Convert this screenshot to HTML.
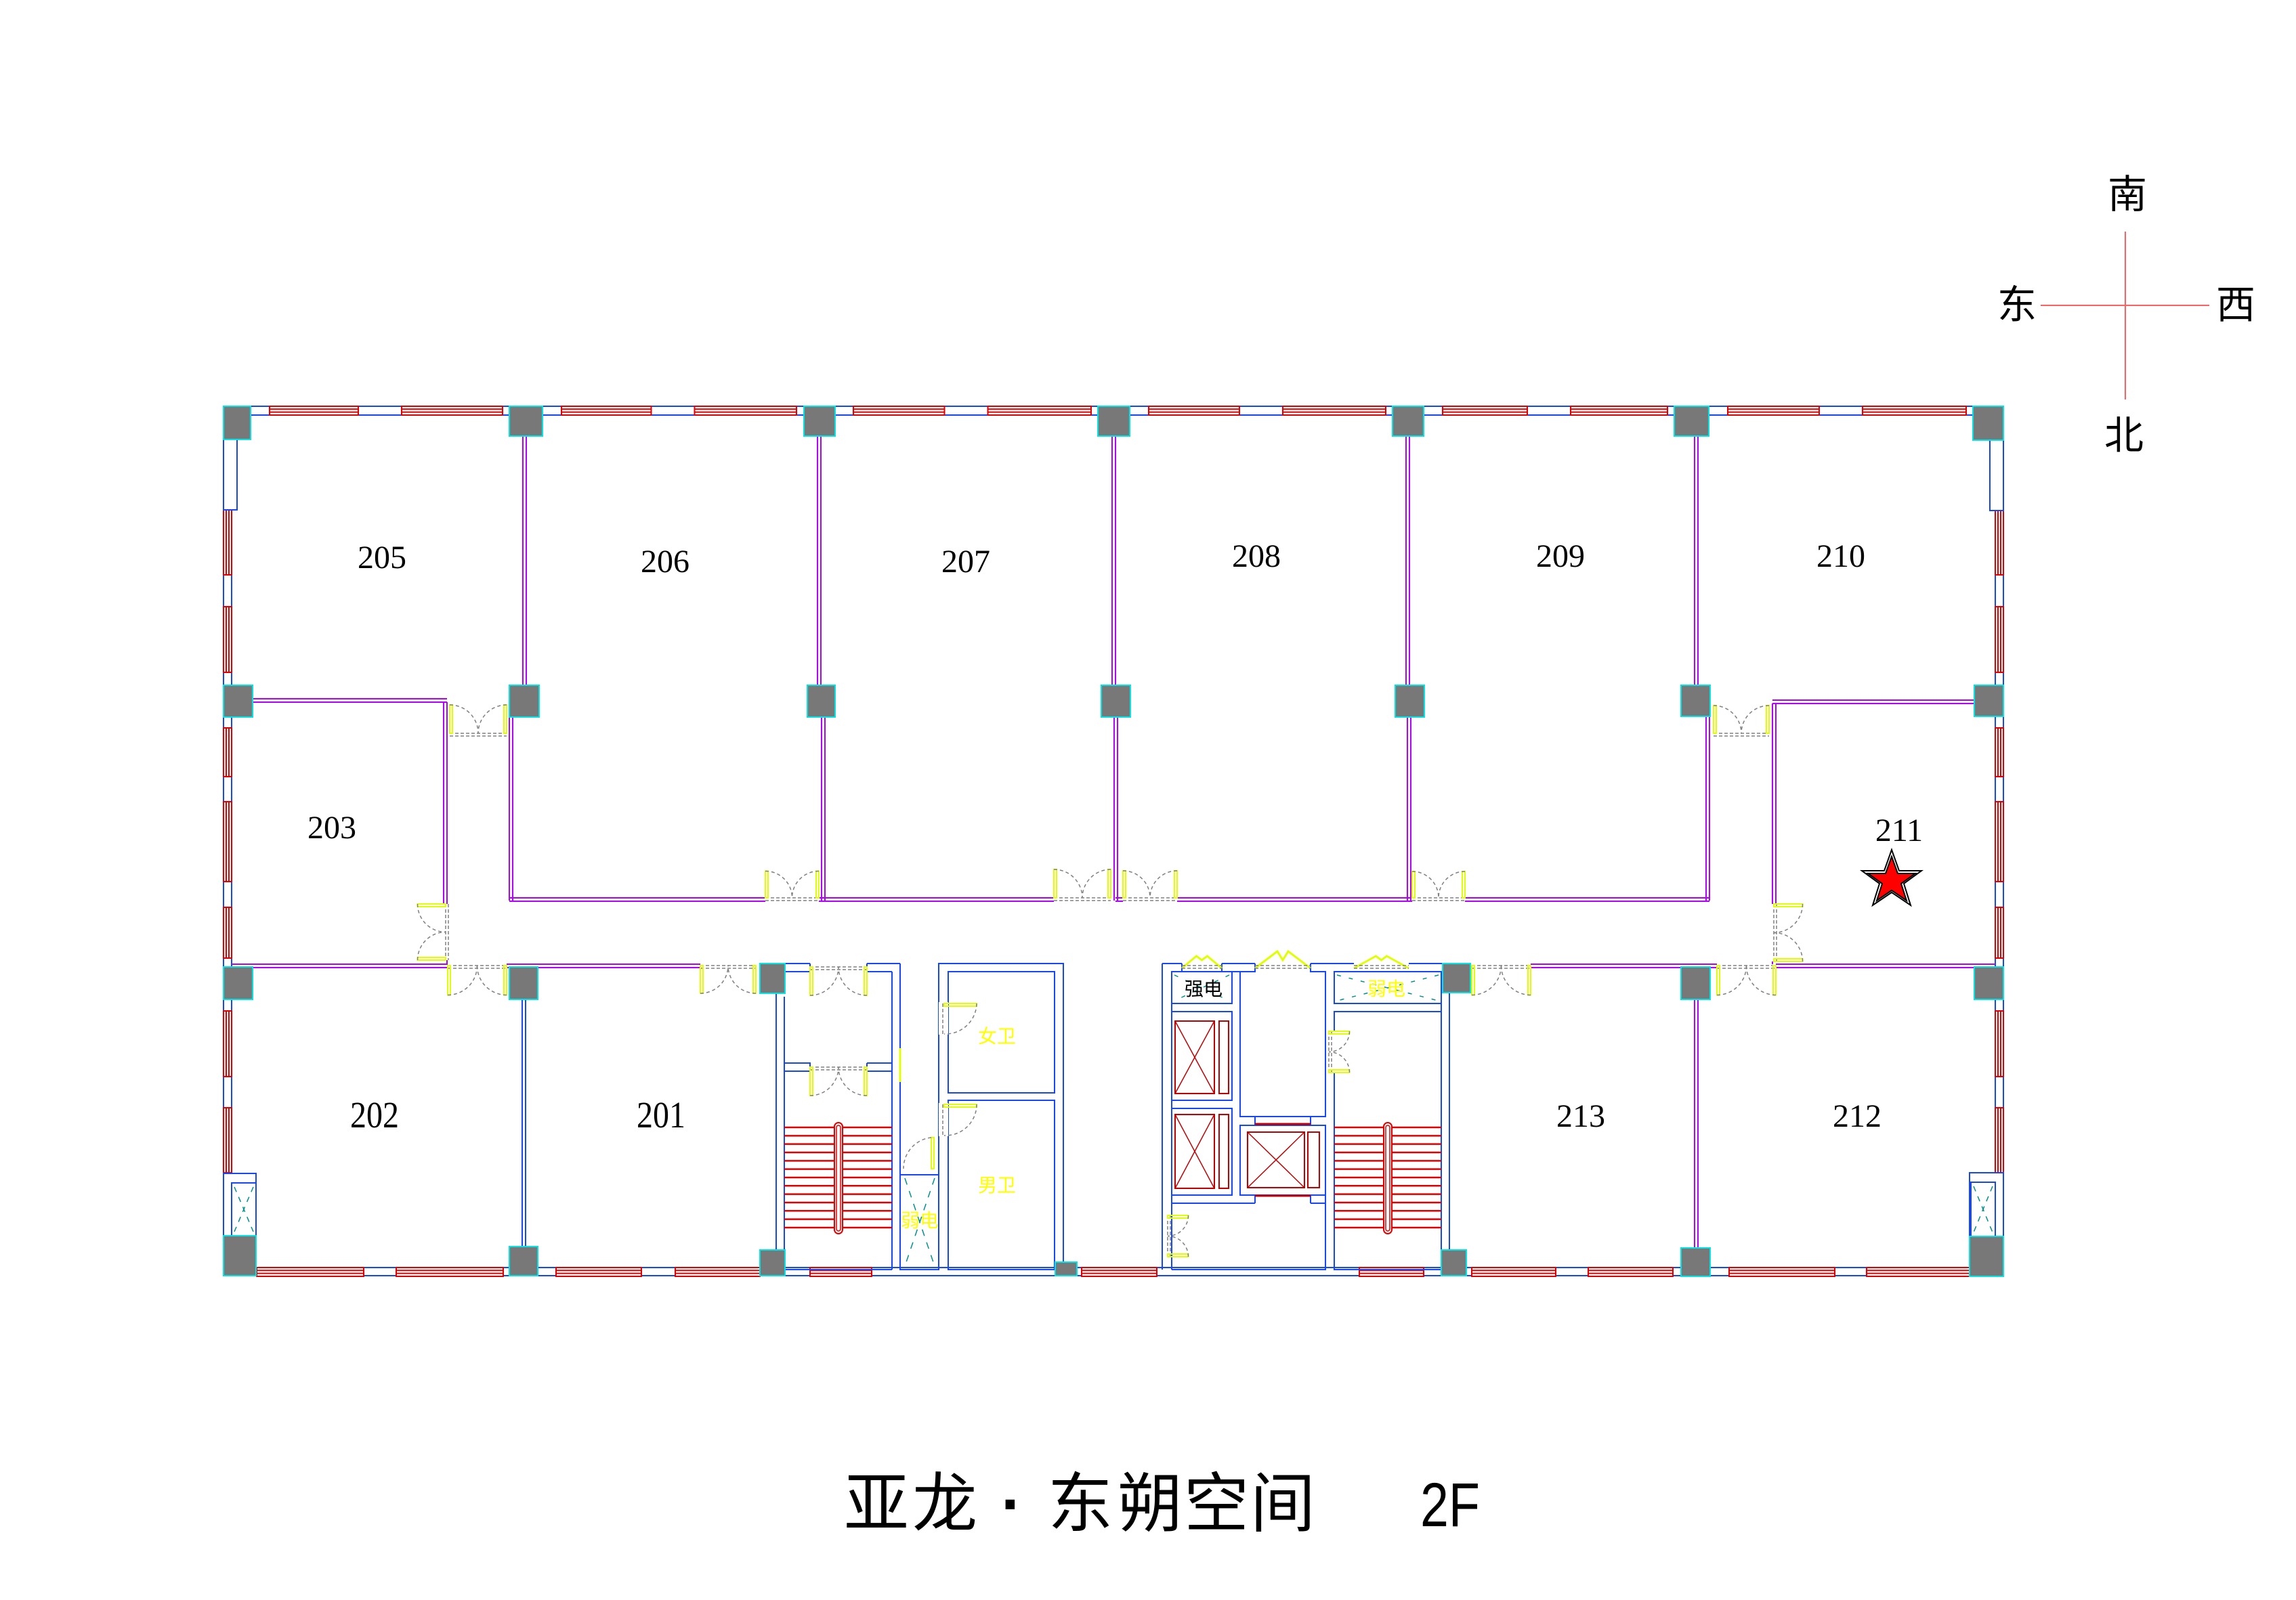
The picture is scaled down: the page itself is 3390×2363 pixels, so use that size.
<!DOCTYPE html>
<html><head><meta charset="utf-8">
<style>
html,body{margin:0;padding:0;background:#fff;}
svg{display:block;}
.rn{font-family:"Liberation Serif","DejaVu Serif",serif;font-size:48px;fill:#000;text-anchor:middle;}
.cj{font-family:"Liberation Sans","Noto Sans CJK SC",sans-serif;text-anchor:middle;}
</style></head>
<body>
<svg id="s" xmlns="http://www.w3.org/2000/svg" width="3390" height="2363" viewBox="0 0 3390 2363">
<rect width="3390" height="2363" fill="#fff"/>
<g id="walls" fill="none" stroke-width="2"></g>
<g id="gen" fill="none" stroke-width="2"></g>
<g id="cols"></g>
<!-- compass -->
<line x1="3138" y1="342" x2="3138" y2="590" stroke="#ff6060" stroke-width="2"/>
<line x1="3013" y1="451" x2="3262" y2="451" stroke="#ff6060" stroke-width="2"/>
<text class="cj" x="3141" y="307" font-size="58">南</text>
<text class="cj" x="2978" y="470" font-size="58">东</text>
<text class="cj" x="3301" y="470" font-size="58">西</text>
<text class="cj" x="3136" y="663" font-size="58">北</text>
<!-- room labels -->
<g transform="translate(-4 -3)">
<text class="rn" x="568" y="842">205</text>
<text class="rn" x="986" y="848">206</text>
<text class="rn" x="1430" y="848">207</text>
<text class="rn" x="1859" y="840">208</text>
<text class="rn" x="2308" y="840">209</text>
<text class="rn" x="2722" y="840">210</text>
<text class="rn" x="494" y="1241">203</text>
<text class="rn" x="2808" y="1245">211</text>
<text class="rn" x="557" y="1668" transform="translate(557 1668) scale(1 1.15) translate(-557 -1668)">202</text>
<text class="rn" x="980" y="1668" transform="translate(980 1668) scale(1 1.15) translate(-980 -1668)">201</text>
<text class="rn" x="2338" y="1667">213</text>
<text class="rn" x="2746" y="1667">212</text>
</g>
<!-- core labels -->
<text class="cj" x="1777" y="1470" font-size="28" fill="#000">强电</text>
<text class="cj" x="2047" y="1470" font-size="28" fill="#ffff00">弱电</text>
<text class="cj" x="1472" y="1540" font-size="28" fill="#ffff00">女卫</text>
<text class="cj" x="1472" y="1760" font-size="28" fill="#ffff00">男卫</text>
<text class="cj" x="1358" y="1812" font-size="28" fill="#ffff00">弱电</text>
<!-- star -->
<polygon points="2793,1255 2804,1286 2837,1286 2811,1305 2821,1337 2793,1318 2765,1337 2775,1305 2749,1286 2782,1286" fill="none" stroke="#000" stroke-width="2"/>
<polygon points="2793,1265 2802,1290 2828,1290 2807,1305 2815,1330 2793,1315 2771,1330 2779,1305 2758,1290 2784,1290" fill="#ff0000" stroke="#000" stroke-width="2"/>
<!-- title -->
<g class="cj" font-size="96" fill="#000" font-family="Liberation Sans,Noto Sans CJK SC,sans-serif">
<text x="1294" y="2254">亚</text>
<text x="1395" y="2254">龙</text>
<text x="1494" y="2254" font-weight="bold">·</text>
<text x="1595" y="2254">东</text>
<text x="1698" y="2254">朔</text>
<text x="1796" y="2254">空</text>
<text x="1894" y="2254">间</text>
<text x="2141" y="2254" font-family="Liberation Sans,sans-serif" font-size="92" textLength="88" lengthAdjust="spacingAndGlyphs">2F</text>
</g>
</svg>
<script>
(function(){
var NS="http://www.w3.org/2000/svg";
var W=document.getElementById('walls'),G=document.getElementById('gen'),C=document.getElementById('cols');
var BL="#1446ff",RD="#e00000",MG="#b400ff",YL="#e0ff00",GR="#808080",CY="#00e5e5";
function el(p,t,a){var e=document.createElementNS(NS,t);for(var k in a)e.setAttribute(k,a[k]);p.appendChild(e);return e;}
function R(p,x1,y1,x2,y2,c,f,sw){return el(p,'rect',{x:x1,y:y1,width:x2-x1,height:y2-y1,stroke:c,fill:f||'none','stroke-width':sw||2});}
function L(p,x1,y1,x2,y2,c,sw,da){var a={x1:x1,y1:y1,x2:x2,y2:y2,stroke:c,'stroke-width':sw||2};if(da)a['stroke-dasharray']=da;return el(p,'line',a);}
function P(p,d,c,sw,da){var a={d:d,stroke:c,fill:'none','stroke-width':sw||2};if(da)a['stroke-dasharray']=da;return el(p,'path',a);}
R(W,330,600,2958,613,BL);R(W,330,1872,2958,1884,BL);
R(W,330,600,342,1884,BL);R(W,2946,600,2958,1884,BL);
function hwin(x1,x2,y){R(W,x1,y,x2,y+13,RD,'#fff');L(W,x1,y+4.3,x2,y+4.3,RD);L(W,x1,y+8.6,x2,y+8.6,RD);}
function vwin(y1,y2,x){R(W,x,y1,x+12,y2,RD,'#fff');L(W,x+4,y1,x+4,y2,RD);L(W,x+8,y1,x+8,y2,RD);}
var topB=[[370,752],[801,1186],[1232,1621],[1668,2056],[2102,2472],[2523,2913]];
topB.forEach(function(b){var m=(b[0]+b[1])/2;hwin(b[0]+28,m-32,600);hwin(m+32,b[1]-10,600);});
[[379,537],[585,743],[821,947],[997,1122],[1196,1287],[1597,1708],[2007,2102],[2173,2297],[2345,2470],[2553,2709],[2756,2908]].forEach(function(s){hwin(s[0],s[1],1872);});
[[753,849],[896,993],[1075,1147],[1184,1302],[1340,1415],[1493,1590],[1636,1732]].forEach(function(s){vwin(s[0],s[1],330);vwin(s[0],s[1],2946);});
R(W,330,649,350,753,BL,'#fff');R(W,2938,650,2958,754,BL,'#fff');
function vent(x1,y1,x2,y2){R(W,x1,y1,x2,y2,BL,'#fff');P(W,'M'+(x1+4)+' '+(y1+6)+'L'+(x2-4)+' '+(y2-6)+'M'+(x2-4)+' '+(y1+6)+'L'+(x1+4)+' '+(y2-6),'#009090',1.5,'8 8');}
R(W,330,1733,378,1825,BL,'#fff');vent(342,1747,378,1825);
R(W,2908,1732,2958,1826,BL,'#fff');vent(2910,1746,2946,1826);
function mh(x1,x2,y){L(W,x1,y,x2,y,MG);L(W,x1,y+5,x2,y+5,MG);}
function mv(y1,y2,x){L(W,x,y1,x,y2,MG);L(W,x+5,y1,x+5,y2,MG);}
mv(644,1012,772);mv(644,1012,1207);mv(644,1012,1642);mv(644,1012,2076);mv(644,1012,2502);
mv(1059,1330,752);mv(1059,1330,1213);mv(1059,1330,1645);mv(1059,1330,2078);mv(1058,1330,2519);
mh(752,1130,1326);mh(1209,1556,1326);mh(1647,1658,1326);mh(1738,2085,1326);mh(2163,2524,1326);
mh(1213,1218,1326);
mh(373,660,1032);mv(1037,1335,655);
mh(2617,2915,1034);mv(1039,1335,2617);
mh(342,661,1424);mh(748,1034,1424);mh(2260,2535,1424);mh(2622,2946,1424);
L(W,660,1418,660,1424,MG);L(W,2617,1420,2617,1424,MG);
L(W,771,1476,771,1841,BL);L(W,776,1476,776,1841,BL);
mv(1476,1843,2502);
var cols=[[330,600,370,649],[752,600,801,644],[1187,600,1233,644],[1621,600,1668,644],[2056,600,2102,644],[2472,600,2523,644],[2913,600,2958,650],
[330,1012,373,1059],[752,1012,796,1059],[1192,1012,1233,1059],[1626,1012,1669,1059],[2060,1012,2103,1059],[2482,1012,2525,1058],[2915,1012,2958,1058],
[330,1428,373,1476],[752,1428,794,1476],[1122,1423,1159,1467],[2130,1423,2171,1466],[2482,1428,2525,1476],[2915,1428,2958,1476],
[330,1825,378,1884],[752,1841,794,1884],[1122,1846,1159,1884],[1558,1864,1590,1884],[2128,1846,2165,1884],[2482,1843,2525,1885],[2908,1826,2958,1885]];
cols.forEach(function(c){R(C,c[0],c[1],c[2],c[3],CY,'#787878',2);});
function arcD(x1,y1,x2,y2,r,sweep){P(G,'M'+x1+' '+y1+' A'+r+' '+r+' 0 0 '+sweep+' '+x2+' '+y2,GR,1.5,'5 4');}
function hdd(x1,x2,y,d){var w=(x2-x1)/2,m=x1+w;
 L(G,x1,y,x2,y,GR,1.5,'5 3');L(G,x1,y+4,x2,y+4,GR,1.5,'5 3');
 R(G,x1,Math.min(y,y+d*w),x1+4,Math.max(y,y+d*w),YL);R(G,x2-4,Math.min(y,y+d*w),x2,Math.max(y,y+d*w),YL);
 arcD(x1,y+d*w,m,y,w,d>0?0:1);arcD(x2,y+d*w,m,y,w,d>0?1:0);}
function vdd(y1,y2,x,d){var w=(y2-y1)/2,m=y1+w;
 L(G,x,y1,x,y2,GR,1.5,'5 3');L(G,x+4,y1,x+4,y2,GR,1.5,'5 3');
 R(G,Math.min(x,x+d*w),y1,Math.max(x,x+d*w),y1+4,YL);R(G,Math.min(x,x+d*w),y2-4,Math.max(x,x+d*w),y2,YL);
 arcD(x+d*w,y1,x,m,w,d>0?1:0);arcD(x+d*w,y2,x,m,w,d>0?0:1);}
hdd(664,748,1083,-1);hdd(2530,2612,1083,-1);
hdd(1130,1209,1326,-1);hdd(1556,1640,1326,-1);hdd(1658,1738,1326,-1);hdd(2085,2163,1326,-1);
hdd(661,748,1426,1);hdd(1034,1116,1426,1);hdd(2173,2260,1426,1);hdd(2535,2622,1426,1);
hdd(1196,1280,1428,1);hdd(1196,1280,1576,1);
vdd(1335,1418,658,-1);vdd(1335,1420,2619,1);
vdd(1523,1584,1962,1);vdd(1795,1856,1724,1);
function sd(x,y1,y2){R(G,x,y1,x+48,y1+4,YL);arcD(x+48,y1,x,y2,46,1);L(G,x-2,y1,x-2,y2,GR,1.5,'5 3');}
sd(1394,1482,1527);sd(1394,1631,1677);
R(G,1375,1680,1379,1726,YL);arcD(1375,1680,1334,1726,46,0);
var BLc=BL;
L(W,1146,1467,1146,1872,BLc);L(W,1158,1472,1158,1872,BLc);
L(W,1317,1435,1317,1875,BLc);L(W,1329,1423,1329,1875,BLc);
P(W,'M1159 1423 H1196 M1280 1423 H1329 M1159 1435 H1196 V1423 M1280 1423 V1435 H1317',BLc);
P(W,'M1158 1570 H1196 V1582 H1158 M1280 1570 H1317 M1280 1570 V1582 H1317',BLc);
L(W,1158,1875,1317,1875,BLc);
function stairs(x1,x2,hx){for(var i=0;i<13;i++){var y=1665+i*12.33;L(W,x1,y,hx-6,y,RD,2.5);L(W,hx+6,y,x2,y,RD,2.5);}
 el(W,'rect',{x:hx-6,y:1658,width:12,height:164,rx:6,stroke:RD,fill:'#fff','stroke-width':2});
 el(W,'rect',{x:hx-3,y:1662,width:6,height:156,rx:3,stroke:RD,fill:'none','stroke-width':1.5});}
stairs(1158,1317,1238);
L(W,1329,1548,1329,1598,YL,3);
R(W,1386,1423,1570,1872,BLc);
R(W,1400,1435,1557,1614,BLc);R(W,1400,1625,1557,1875,BLc);
R(W,1386,1480,1400,1528,'none','#fff',0);R(W,1386,1629,1400,1678,'none','#fff',0);
R(W,1329,1735,1386,1875,BLc);
P(W,'M1336 1740 L1380 1870 M1380 1740 L1336 1870','#009090',1.5,'10 10');
L(W,1716,1423,1716,1875,BLc);L(W,1730,1435,1730,1875,BLc);
P(W,'M1716 1423 H1745 M1804 1423 H1853 M1935 1423 H1999 M2080 1423 H2140 V1872',BLc);
P(W,'M1730 1435 H1745 V1423 M1804 1423 V1435 H1831 V1649 H1957 V1435 H1935 V1423 M1853 1423 V1435 H1831',BLc);
L(W,2128,1466,2128,1875,BLc);
R(W,1730,1435,1819,1482,BLc);
P(W,'M1734 1440 L1815 1478 M1815 1440 L1734 1478','#009090',1.5,'6 12');
R(W,1730,1494,1819,1625,BLc);R(W,1730,1637,1819,1765,BLc);
function elev(x1,y1,x2,y2,cx1,cx2){R(W,x1,y1,x2,y2,'#c00000');P(W,'M'+x1+' '+y1+'L'+x2+' '+y2+'M'+x2+' '+y1+'L'+x1+' '+y2,'#c00000',1.5);R(W,cx1,y1,cx2,y2,'#c00000');}
elev(1735,1508,1793,1615,1800,1814);elev(1735,1646,1793,1755,1800,1814);
R(W,1831,1662,1957,1765,BLc);
P(W,'M1853 1649 V1662 M1935 1649 V1662 M1853 1765 V1777 M1935 1765 V1777',BLc);
L(W,1853,1660,1935,1660,'#c00000',3);L(W,1853,1766,1935,1766,'#c00000',3);
elev(1842,1672,1926,1754,1931,1948);
P(W,'M1730 1777 H1853 M1935 1777 H1957 V1875 H1730',BLc);
L(W,1957,1765,1957,1777,BLc);
R(W,1970,1435,2128,1482,BLc);
P(W,'M1974 1440 L2124 1478 M2124 1440 L1974 1478','#009090',1.5,'6 12');
R(W,1970,1494,2128,1875,BLc);
R(W,1962,1523,1972,1584,'none','#fff',0);
stairs(1970,2128,2049);
function bf(x1,x2,pk){var m=(x1+x2)/2;P(G,'M'+x1+' 1430 L'+(m-8)+' '+pk+' L'+m+' 1418 L'+(m+8)+' '+pk+' L'+x2+' 1430',YL,3);L(G,x1,1426,x2,1426,GR,1.5,'5 3');L(G,x1,1430,x2,1430,GR,1.5,'5 3');}
bf(1745,1804,1412);bf(1853,1935,1405);bf(1999,2080,1412);
})();
</script>
</body></html>
